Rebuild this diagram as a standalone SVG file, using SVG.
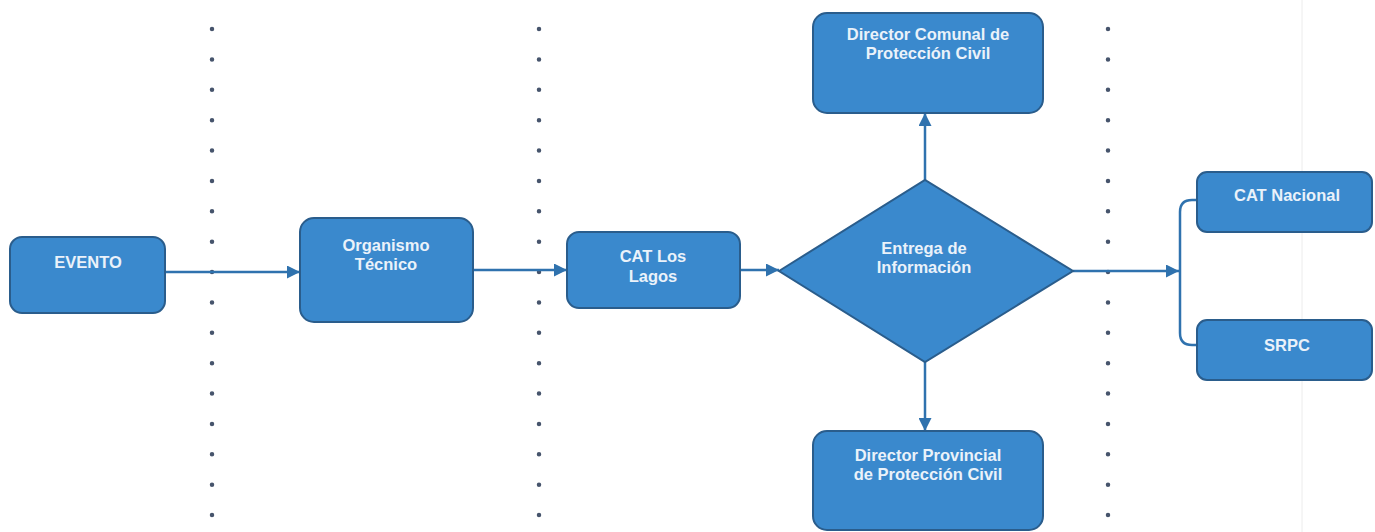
<svg xmlns="http://www.w3.org/2000/svg" width="1375" height="532" viewBox="0 0 1375 532">
  <defs>
    <marker id="arr" viewBox="0 0 10 10" refX="10" refY="5" markerWidth="14" markerHeight="13" markerUnits="userSpaceOnUse" orient="auto">
      <path d="M0,0 L10,5 L0,10 z" fill="#2f72ae"/>
    </marker>
  </defs>
  <style>
    .box { fill: #3a89cd; stroke: #2a5d8c; stroke-width: 2; }
    .lbl { font-family: "Liberation Sans", Arial, sans-serif; font-weight: bold; font-size: 16.5px; fill: #eaf2fa; text-anchor: middle; }
    .con { fill: none; stroke: #2f72ae; stroke-width: 2.5; }
    .dots { stroke: #46546c; stroke-width: 4.5; stroke-linecap: round; stroke-dasharray: 0 30.375; }
  </style>
  <rect width="1375" height="532" fill="#ffffff"/>
  <line x1="1302" y1="0" x2="1302" y2="532" stroke="#ececec" stroke-width="1"/>
  <g id="separators">
    <line class="dots" x1="212" y1="29" x2="212" y2="516"/>
    <line class="dots" x1="539" y1="29" x2="539" y2="516"/>
    <line class="dots" x1="1108" y1="29" x2="1108" y2="516"/>
  </g>
  <g id="connectors">
    <path class="con" d="M165,272 H300" marker-end="url(#arr)"/>
    <path class="con" d="M473,270 H567" marker-end="url(#arr)"/>
    <path class="con" d="M740,270 H779" marker-end="url(#arr)"/>
    <path class="con" d="M925,180 V113" marker-end="url(#arr)"/>
    <path class="con" d="M925,362 V431" marker-end="url(#arr)"/>
    <path class="con" d="M1073,271 H1179" marker-end="url(#arr)"/>
    <path class="con" d="M1197,200 H1192 Q1180,200 1180,212 V333 Q1180,345 1192,345 H1197"/>
  </g>
  <g id="evento">
    <rect class="box" x="10" y="237" width="155" height="76" rx="12"/>
    <text class="lbl" x="88" y="268">EVENTO</text>
  </g>
  <g id="organismo">
    <rect class="box" x="300" y="218" width="173" height="104" rx="14"/>
    <text class="lbl" x="386" y="251">Organismo</text>
    <text class="lbl" x="386" y="270">Técnico</text>
  </g>
  <g id="catloslagos">
    <rect class="box" x="567" y="232" width="173" height="76" rx="12"/>
    <text class="lbl" x="653" y="262">CAT Los</text>
    <text class="lbl" x="653" y="282">Lagos</text>
  </g>
  <g id="entrega">
    <polygon class="box" points="779,271 925,180 1073,271 925,362"/>
    <text class="lbl" x="924" y="254">Entrega de</text>
    <text class="lbl" x="924" y="273">Información</text>
  </g>
  <g id="dircomunal">
    <rect class="box" x="813" y="13" width="230" height="100" rx="14"/>
    <text class="lbl" x="928" y="40">Director Comunal de</text>
    <text class="lbl" x="928" y="59">Protección Civil</text>
  </g>
  <g id="dirprovincial">
    <rect class="box" x="813" y="431" width="230" height="99" rx="14"/>
    <text class="lbl" x="928" y="461">Director Provincial</text>
    <text class="lbl" x="928" y="480">de Protección Civil</text>
  </g>
  <g id="catnacional">
    <rect class="box" x="1197" y="172" width="175" height="60" rx="10"/>
    <text class="lbl" x="1287" y="201">CAT Nacional</text>
  </g>
  <g id="srpc">
    <rect class="box" x="1197" y="320" width="175" height="60" rx="10"/>
    <text class="lbl" x="1287" y="351">SRPC</text>
  </g>
</svg>
